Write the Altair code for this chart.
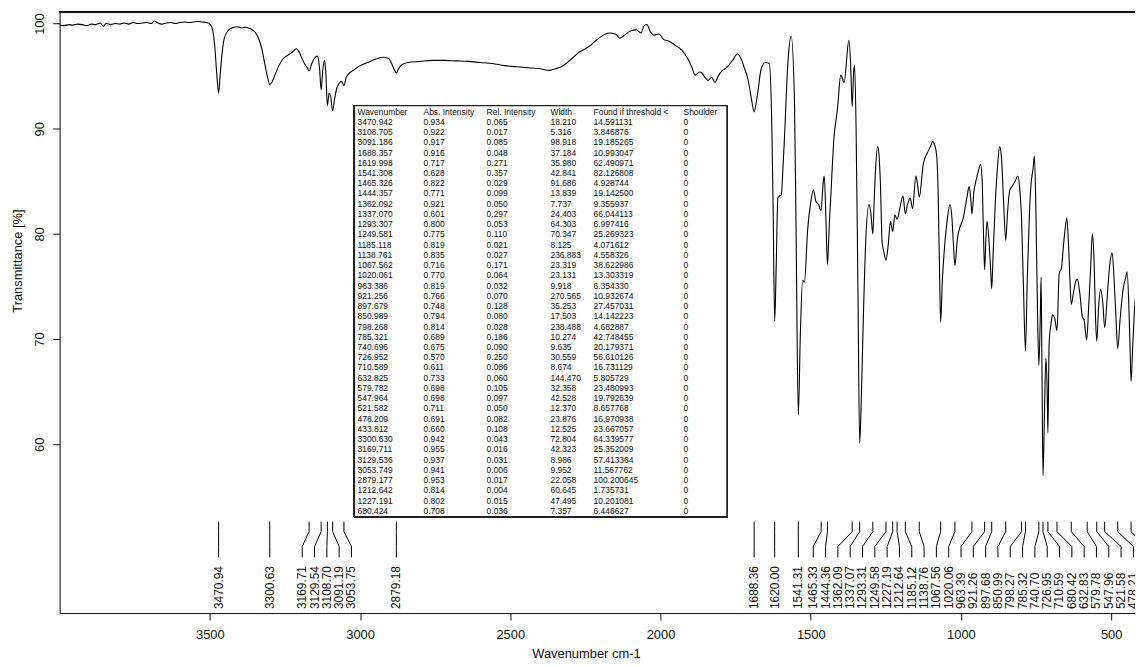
import altair as alt
import pandas as pd

# ---------------- spectrum ----------------
wavenumber = [4000, 3985, 3970, 3955, 3940, 3925, 3910, 3895, 3880, 3865, 3855, 3845, 3830, 3815, 3800, 3785, 3770, 3755,
              3740, 3725, 3710, 3695, 3685, 3675, 3660, 3645, 3630, 3615, 3600, 3585, 3570, 3555, 3540, 3525, 3510, 3498,
              3490, 3483, 3477, 3471, 3466, 3460, 3452, 3440, 3425, 3410, 3395, 3380, 3365, 3350, 3338, 3328, 3318, 3308,
              3300.6, 3292, 3282, 3270, 3255, 3240, 3225, 3212, 3205, 3195, 3185, 3176, 3169.7, 3162, 3152, 3142, 3135,
              3129.5, 3124, 3118, 3114, 3108.7, 3103, 3098, 3091.2, 3085, 3078, 3070, 3062, 3053.7, 3046, 3035, 3020,
              3000, 2975, 2950, 2925, 2905, 2895, 2886, 2879.2, 2872, 2860, 2840, 2800, 2760, 2720, 2680, 2640, 2600,
              2560, 2520, 2480, 2440, 2400, 2370, 2350, 2330, 2310, 2290, 2270, 2250, 2230, 2210, 2190, 2170, 2150, 2135,
              2120, 2100, 2080, 2065, 2055, 2045, 2035, 2020, 2005, 1990, 1970, 1950, 1930, 1910, 1895, 1885, 1870, 1862,
              1850, 1841, 1830, 1819, 1808, 1796, 1785, 1774, 1760, 1744, 1731, 1720, 1710, 1703, 1696, 1688.4, 1682,
              1676, 1665, 1651, 1638, 1629, 1625, 1620, 1615, 1609.5, 1604, 1598, 1592, 1587, 1576, 1565, 1554, 1548.7,
              1541.3, 1534.5, 1527, 1521, 1510, 1500, 1491, 1483, 1474, 1466, 1458, 1455, 1449, 1444.4, 1438, 1433, 1422,
              1415, 1411, 1400, 1389, 1373, 1367, 1362.1, 1357, 1354, 1349, 1343, 1337.1, 1333, 1329, 1317, 1306, 1300,
              1293.3, 1289, 1284, 1277, 1272, 1268, 1262.6, 1256, 1249.6, 1242, 1234.5, 1227.2, 1220, 1212.6, 1203, 1193,
              1185.1, 1178, 1169, 1161, 1150, 1145, 1138.8, 1125, 1110, 1100, 1094, 1088, 1081, 1076, 1071, 1067.6, 1062,
              1053, 1045, 1036.5, 1030, 1025, 1020.1, 1012, 1005, 992.4, 980, 972.6, 967, 963.4, 957, 950.5, 942, 935,
              930, 925, 921.3, 917, 913, 906, 901, 897.7, 893, 885.5, 878, 871, 865, 858, 851, 845, 838, 830, 820, 810.6,
              805, 798.3, 792, 785.3, 779, 772, 766.8, 760, 755.5, 751, 746, 740.7, 736, 733.3, 730, 727, 722, 717.3, 713,
              710.6, 706.5, 700, 695, 688, 680.4, 673, 665, 660, 655, 647.7, 642, 637, 632.8, 625, 618, 612.4, 605, 595.8,
              590, 581.5, 575, 568, 562.6, 557, 552, 548, 542, 535, 528, 521.6, 512, 505, 496.6, 490, 484, 478.2, 470, 460,
              452, 447, 441, 437, 433.8, 428, 420, 410]
transmittance = [99.85, 99.8, 99.9, 99.85, 99.95, 99.9, 99.8, 99.95, 99.9, 100.05, 99.75, 100.0, 99.9, 100.0, 99.95,
                 100.05, 99.95, 100.1, 100.0, 100.05, 100.1, 100.0, 100.25, 100.1, 99.95, 100.05, 100.1, 100.0, 100.1,
                 100.15, 100.1, 100.15, 100.2, 100.15, 100.1, 99.9, 99.3, 97.6, 95.2, 93.4, 95.0, 97.0, 98.6, 99.3, 99.6,
                 99.7, 99.6, 99.65, 99.5, 99.2, 98.6, 97.7, 96.3, 94.9, 94.2, 94.5, 95.2, 96.0, 96.7, 97.0, 97.3, 97.6,
                 97.4, 96.8, 96.2, 95.8, 95.5, 96.1, 96.7, 96.9, 95.8, 93.7, 95.6, 96.5, 95.3, 92.2, 93.4, 93.1, 91.7,
                 92.8, 93.8, 94.3, 94.5, 94.1, 94.9, 95.3, 95.6, 96.0, 96.3, 96.6, 96.8, 96.7, 96.2, 95.6, 95.3, 95.7,
                 96.1, 96.3, 96.4, 96.5, 96.5, 96.45, 96.4, 96.3, 96.2, 96.0, 95.9, 95.8, 95.7, 95.55, 95.7, 95.9, 96.3,
                 96.8, 97.3, 97.6, 98.0, 98.5, 98.9, 99.1, 99.0, 98.6, 98.9, 99.3, 99.4, 99.1, 99.8, 99.9, 99.3, 98.9,
                 99.0, 98.5, 98.3, 97.9, 97.5, 96.7, 95.8, 95.1, 95.4, 95.3, 94.8, 94.6, 94.9, 94.4, 95.0, 95.5, 95.7,
                 96.0, 96.5, 97.1, 96.6, 95.7, 94.8, 93.8, 92.6, 91.6, 92.4, 93.5, 95.7, 96.3, 96.2, 89.4, 82.0, 71.7,
                 76.8, 83.4, 83.6, 83.7, 86.5, 89.4, 96.3, 98.8, 92.5, 80.0, 62.8, 70.5, 75.6, 75.4, 80.5, 83.0, 84.2,
                 83.1, 82.8, 82.2, 85.0, 85.5, 81.0, 77.1, 81.0, 83.7, 89.4, 91.0, 91.9, 95.1, 94.4, 98.4, 96.0, 92.1,
                 95.5, 96.0, 90.0, 75.0, 60.1, 63.0, 67.4, 79.3, 82.8, 82.0, 80.0, 83.0, 86.3, 88.3, 87.2, 84.7, 79.3,
                 78.2, 77.5, 79.0, 81.2, 80.2, 81.8, 81.4, 82.5, 83.6, 81.9, 82.8, 83.4, 82.4, 85.5, 84.8, 83.5, 86.7,
                 87.8, 88.4, 88.8, 88.5, 87.5, 84.0, 76.0, 71.6, 75.5, 79.3, 81.5, 82.8, 81.5, 79.0, 77.0, 79.5, 80.5,
                 81.5, 83.5, 84.5, 83.2, 81.9, 84.0, 85.0, 86.0, 86.6, 85.5, 80.0, 76.6, 79.5, 81.2, 79.0, 76.5, 74.8,
                 78.0, 83.1, 86.5, 88.3, 87.2, 83.0, 79.4, 82.0, 84.1, 84.5, 85.0, 85.5, 84.5, 81.4, 75.0, 68.9, 76.0,
                 82.0, 84.7, 86.2, 87.4, 83.0, 74.0, 67.5, 72.0, 75.9, 66.0, 57.0, 63.0, 68.2, 65.0, 61.1, 69.6, 71.5,
                 72.3, 72.0, 70.8, 76.2, 76.8, 78.5, 80.0, 81.5, 79.0, 75.5, 73.3, 74.5, 75.5, 75.7, 74.5, 72.1, 71.8,
                 69.9, 73.0, 77.0, 80.0, 77.5, 72.0, 69.8, 73.0, 74.7, 73.5, 71.1, 74.5, 77.0, 78.2, 75.5, 72.0, 69.1,
                 72.0, 74.8, 75.8, 76.4, 73.0, 69.0, 66.0, 69.5, 73.7, 75.0]

# ---------------- peak table ----------------
peak_wn = [3470.942, 3108.705, 3091.186, 1688.357, 1619.998, 1541.308, 1465.326, 1444.357, 1362.092, 1337.070,
           1293.307, 1249.581, 1185.118, 1138.761, 1067.562, 1020.061, 963.386, 921.256, 897.679, 850.989, 798.268,
           785.321, 740.696, 726.952, 710.589, 632.825, 579.782, 547.964, 521.582, 478.209, 433.812, 3300.630,
           3169.711, 3129.536, 3053.749, 2879.177, 1212.642, 1227.191, 680.424]
abs_intensity = [0.934, 0.922, 0.917, 0.916, 0.717, 0.628, 0.822, 0.771, 0.921, 0.601, 0.800, 0.775, 0.819, 0.835,
                 0.716, 0.770, 0.819, 0.766, 0.748, 0.794, 0.814, 0.689, 0.675, 0.570, 0.611, 0.733, 0.698, 0.698,
                 0.711, 0.691, 0.660, 0.942, 0.955, 0.937, 0.941, 0.953, 0.814, 0.802, 0.708]
rel_intensity = [0.065, 0.017, 0.085, 0.048, 0.271, 0.357, 0.029, 0.099, 0.050, 0.297, 0.053, 0.110, 0.021, 0.027,
                 0.171, 0.064, 0.032, 0.070, 0.128, 0.080, 0.028, 0.186, 0.090, 0.250, 0.086, 0.060, 0.105, 0.097,
                 0.050, 0.082, 0.108, 0.043, 0.016, 0.031, 0.006, 0.017, 0.004, 0.015, 0.036]
peak_width = [18.210, 5.316, 98.918, 37.184, 35.980, 42.841, 91.686, 13.839, 7.737, 24.403, 64.303, 70.347, 8.125,
              236.883, 23.319, 23.131, 9.918, 270.565, 35.253, 17.503, 238.488, 10.274, 9.635, 30.559, 8.674, 144.470,
              32.358, 42.528, 12.370, 23.876, 12.525, 72.804, 42.323, 8.986, 9.952, 22.058, 60.645, 47.495, 7.357]
found_threshold = [14.591131, 3.846876, 19.185265, 10.993047, 62.490971, 82.126808, 4.928744, 19.142500, 9.355937,
                   66.044113, 6.997416, 25.269323, 4.071612, 4.558326, 38.622986, 13.303319, 6.354330, 10.932674,
                   27.457031, 14.142223, 4.682887, 42.748455, 20.179371, 56.610126, 16.731129, 5.805729, 23.480993,
                   19.792639, 8.657768, 16.970938, 23.667057, 64.339577, 25.352009, 57.413364, 11.567762, 100.200645,
                   1.735731, 10.201081, 6.446627]
shoulder = [0] * len(peak_wn)
headers = ["Wavenumber", "Abs. Intensity", "Rel. Intensity", "Width", "Found if threshold <", "Shoulder"]

# ---------------- layout ----------------
W, H = 1083, 605
XDOM = [4000, 420.7]
YDOM = [43.95, 101.07]
xscale = alt.Scale(domain=XDOM, nice=False, zero=False)
FONT = "Liberation Sans"
INK = "#111111"

# spread the peak labels so they do not overlap (pool-adjacent-violators, min gap of ~12.4 px)
n = len(peak_wn)
sep = 12.4 * (XDOM[0] - XDOM[1]) / W
order = sorted(range(n), key=lambda i: -peak_wn[i])
u = [XDOM[0] - peak_wn[i] for i in order]
blocks = []
for k, uk in enumerate(u):
    blocks.append([uk - k * sep, 1])
    while len(blocks) > 1 and blocks[-2][0] / blocks[-2][1] > blocks[-1][0] / blocks[-1][1]:
        s, c = blocks.pop()
        blocks[-1][0] += s
        blocks[-1][1] += c
fitted = []
for s, c in blocks:
    fitted += [s / c] * c
label_wn = [XDOM[0] - (fitted[k] + k * sep) for k in range(n)]
labels = pd.DataFrame({
    "peak": [peak_wn[i] for i in order],
    "label": label_wn,
    "txt": [f"{peak_wn[i]:.2f}" for i in order],
})

spec = pd.DataFrame({"wn": wavenumber, "T": transmittance})

line = alt.Chart(spec).mark_line(color="black", strokeWidth=1.1, clip=True, interpolate="monotone").encode(
    x=alt.X("wn:Q", scale=xscale,
            axis=alt.Axis(values=[500, 1000, 1500, 2000, 2500, 3000, 3500], title="Wavenumber cm-1",
                          grid=False, tickSize=7, labelPadding=9, labelFontSize=13, titleFontSize=13,
                          titleFontWeight="normal", titleX=530, titleY=41, titleAlign="center",
                          titleBaseline="middle", labelFlush=False, domainColor=INK, tickColor=INK,
                          labelColor=INK, titleColor=INK, format="d")),
    y=alt.Y("T:Q", scale=alt.Scale(domain=YDOM, nice=False, zero=False),
            axis=alt.Axis(values=[60, 70, 80, 90, 100], title="Transmittance [%]", grid=False, tickSize=7,
                          labelAngle=270, labelAlign="center", labelBaseline="bottom", labelPadding=6,
                          labelFontSize=13, titleFontSize=13, titleFontWeight="normal", titleAngle=270,
                          titleX=-42, titleY=250, titleAlign="center", titleBaseline="middle",
                          domainColor=INK, tickColor=INK, labelColor=INK, titleColor=INK)),
)

top_border = alt.Chart(spec).mark_rule(color=INK, strokeWidth=1).encode(
    x=alt.value(0), x2=alt.value(W), y=alt.value(0)
)

seg1 = alt.Chart(labels).mark_rule(color="black", strokeWidth=1).encode(
    x=alt.X("peak:Q", scale=xscale), y=alt.value(513), y2=alt.value(523))
seg2 = alt.Chart(labels).mark_rule(color="black", strokeWidth=1).encode(
    x=alt.X("peak:Q", scale=xscale), x2="label:Q", y=alt.value(523), y2=alt.value(538))
seg3 = alt.Chart(labels).mark_rule(color="black", strokeWidth=1).encode(
    x=alt.X("label:Q", scale=xscale), y=alt.value(538), y2=alt.value(549))
ltext = alt.Chart(labels).mark_text(angle=270, align="left", baseline="middle", fontSize=12, color=INK,
                                    font=FONT).encode(
    x=alt.X("label:Q", scale=xscale), y=alt.value(601), text="txt:N")

# table
tab = pd.DataFrame({
    "row": list(range(1, n + 1)),
    "c0": [f"{v:.3f}" for v in peak_wn],
    "c1": [f"{v:.3f}" for v in abs_intensity],
    "c2": [f"{v:.3f}" for v in rel_intensity],
    "c3": [f"{v:.3f}" for v in peak_width],
    "c4": [f"{v:.6f}" for v in found_threshold],
    "c5": [str(v) for v in shoulder],
})
head = pd.DataFrame({"row": [0] * 6, "col": [f"c{i}" for i in range(6)], "txt": headers})
long = tab.melt(id_vars="row", var_name="col", value_name="txt")
tbl = pd.concat([head, long], ignore_index=True)

col_x = {"c0": 300, "c1": 366.5, "c2": 430, "c3": 494.3, "c4": 537.7, "c5": 628.3}
box = alt.Chart(spec).mark_rect(fill="white", stroke="#222222", strokeWidth=1.2).encode(
    x=alt.value(297), x2=alt.value(672), y=alt.value(94), y2=alt.value(508))

rowscale = alt.Scale(domain=[0, n], range=[100, 502], nice=False, zero=False)
table_layers = []
for c, px in col_x.items():
    table_layers.append(
        alt.Chart(tbl).transform_filter(alt.datum.col == c).mark_text(
            align="left", baseline="middle", fontSize=8.5, font=FONT, color=INK).encode(
            x=alt.value(px), y=alt.Y("row:Q", scale=rowscale, axis=None), text="txt:N")
    )

chart = alt.layer(line, top_border, seg1, seg2, seg3, ltext, box, *table_layers).resolve_scale(
    y="independent"
).properties(
    width=W, height=H,
    autosize=alt.AutoSizeParams(type="none"),
    padding={"left": 52, "top": 2, "right": 0, "bottom": 50},
).configure_view(stroke=None).configure(font=FONT)

chart.save("out.html", embed_options={"renderer": "svg", "actions": False})
